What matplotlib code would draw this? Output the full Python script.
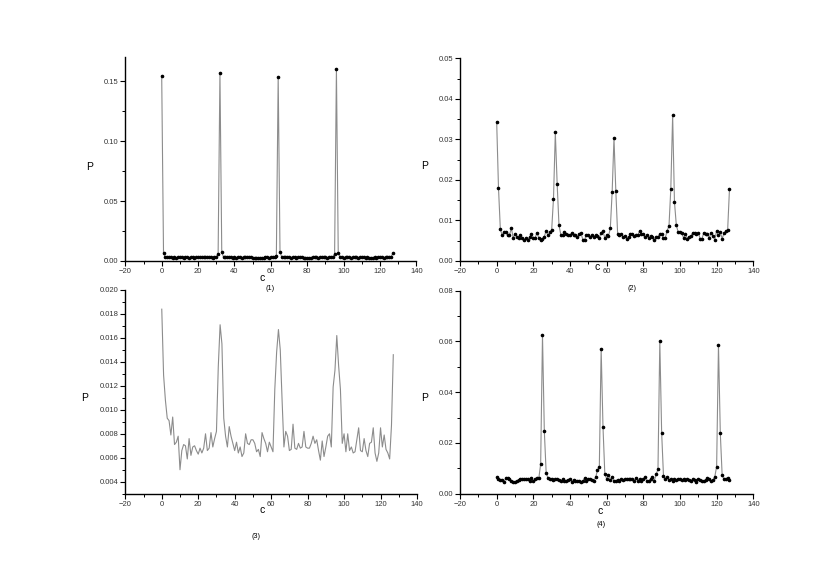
import matplotlib
matplotlib.use("Agg")
import matplotlib.pyplot as plt
import numpy as np
from matplotlib.ticker import MultipleLocator, FormatStrFormatter

plt.rcParams['font.family'] = ['Liberation Sans', 'DejaVu Sans']

c = list(range(128))

# panel (1): four sharp peaks over a flat floor
p1 = [0.1545, 0.0064, 0.0031, 0.0030, 0.0031, 0.0030, 0.0029, 0.0030, 0.0027, 0.0030,
      0.0031, 0.0030, 0.0029, 0.0030, 0.0030, 0.0029, 0.0030, 0.0030, 0.0029, 0.0030,
      0.0031, 0.0033, 0.0031, 0.0030, 0.0031, 0.0030, 0.0030, 0.0032, 0.0029, 0.0031,
      0.0034, 0.0056, 0.1570, 0.0073, 0.0032, 0.0031, 0.0030, 0.0030, 0.0031, 0.0029,
      0.0030, 0.0029, 0.0030, 0.0030, 0.0029, 0.0030, 0.0031, 0.0030, 0.0030, 0.0031,
      0.0028, 0.0027, 0.0028, 0.0027, 0.0028, 0.0028, 0.0027, 0.0030, 0.0031, 0.0029,
      0.0030, 0.0032, 0.0031, 0.0045, 0.1536, 0.0078, 0.0031, 0.0030, 0.0031, 0.0030,
      0.0031, 0.0029, 0.0031, 0.0030, 0.0029, 0.0030, 0.0031, 0.0030, 0.0028, 0.0029,
      0.0025, 0.0027, 0.0029, 0.0030, 0.0031, 0.0030, 0.0029, 0.0030, 0.0031, 0.0030,
      0.0030, 0.0029, 0.0030, 0.0031, 0.0034, 0.0056, 0.1600, 0.0070, 0.0033, 0.0030,
      0.0029, 0.0031, 0.0030, 0.0030, 0.0029, 0.0030, 0.0031, 0.0030, 0.0029, 0.0030,
      0.0031, 0.0030, 0.0029, 0.0030, 0.0029, 0.0028, 0.0029, 0.0030, 0.0029, 0.0030,
      0.0031, 0.0030, 0.0029, 0.0030, 0.0031, 0.0030, 0.0032, 0.0064]

# panel (2)
p2 = [0.0344, 0.0180, 0.0079, 0.0063, 0.0071, 0.0071, 0.0063, 0.0063, 0.0082, 0.0057,
      0.0066, 0.0060, 0.0057, 0.0063, 0.0057, 0.0052, 0.0057, 0.0052, 0.0060, 0.0066,
      0.0057, 0.0057, 0.0070, 0.0057, 0.0052, 0.0055, 0.0060, 0.0075, 0.0063, 0.0072,
      0.0076, 0.0154, 0.0317, 0.0190, 0.0088, 0.0065, 0.0065, 0.0071, 0.0066, 0.0063,
      0.0063, 0.0068, 0.0065, 0.0065, 0.0060, 0.0066, 0.0068, 0.0053, 0.0053, 0.0065,
      0.0063, 0.0058, 0.0063, 0.0060, 0.0063, 0.0061, 0.0057, 0.0070, 0.0073, 0.0057,
      0.0063, 0.0061, 0.0081, 0.0170, 0.0303, 0.0173, 0.0066, 0.0063, 0.0066, 0.0058,
      0.0061, 0.0055, 0.0060, 0.0066, 0.0066, 0.0061, 0.0063, 0.0063, 0.0075, 0.0066,
      0.0066, 0.0058, 0.0063, 0.0057, 0.0061, 0.0060, 0.0052, 0.0060, 0.0060, 0.0066,
      0.0066, 0.0057, 0.0057, 0.0075, 0.0086, 0.0178, 0.0359, 0.0145, 0.0089, 0.0071,
      0.0071, 0.0068, 0.0057, 0.0066, 0.0055, 0.0060, 0.0061, 0.0070, 0.0068, 0.0066,
      0.0070, 0.0055, 0.0055, 0.0070, 0.0066, 0.0066, 0.0057, 0.0070, 0.0061, 0.0053,
      0.0075, 0.0063, 0.0071, 0.0055, 0.0068, 0.0073, 0.0076, 0.0177]

# panel (3): line only
p3 = [0.0184, 0.0129, 0.0108, 0.0093, 0.0091, 0.0079, 0.0094, 0.0071, 0.0073, 0.0078,
      0.0050, 0.0066, 0.0071, 0.0070, 0.0059, 0.0076, 0.0062, 0.0069, 0.0070, 0.0066,
      0.0063, 0.0068, 0.0064, 0.0068, 0.0080, 0.0066, 0.0068, 0.0081, 0.0069, 0.0076,
      0.0082, 0.0136, 0.0171, 0.0155, 0.0093, 0.0078, 0.0069, 0.0086, 0.0078, 0.0072,
      0.0066, 0.0073, 0.0064, 0.0069, 0.0061, 0.0064, 0.0080, 0.0072, 0.0071, 0.0075,
      0.0075, 0.0072, 0.0065, 0.0067, 0.0061, 0.0081, 0.0076, 0.0072, 0.0065, 0.0073,
      0.0069, 0.0065, 0.0117, 0.0148, 0.0167, 0.0150, 0.0108, 0.0069, 0.0082, 0.0078,
      0.0066, 0.0067, 0.0088, 0.0068, 0.0067, 0.0072, 0.0068, 0.0069, 0.0082, 0.0069,
      0.0068, 0.0068, 0.0072, 0.0078, 0.0072, 0.0075, 0.0066, 0.0058, 0.0074, 0.0061,
      0.0069, 0.0078, 0.0080, 0.0069, 0.0119, 0.0133, 0.0162, 0.0137, 0.0117, 0.0072,
      0.0080, 0.0065, 0.0080, 0.0066, 0.0069, 0.0064, 0.0065, 0.0075, 0.0085, 0.0066,
      0.0065, 0.0076, 0.0066, 0.0061, 0.0072, 0.0073, 0.0085, 0.0064, 0.0057, 0.0064,
      0.0085, 0.0069, 0.0079, 0.0067, 0.0064, 0.0059, 0.0087, 0.0146]

# panel (4): peaks shifted to 25, 57, 89, 121
p4 = [0.0064, 0.0059, 0.0054, 0.0054, 0.0046, 0.0061, 0.0061, 0.0057, 0.0051, 0.0046,
      0.0046, 0.0051, 0.0054, 0.0059, 0.0057, 0.0059, 0.0057, 0.0057, 0.0051, 0.0061,
      0.0051, 0.0057, 0.0062, 0.0061, 0.0117, 0.0624, 0.0247, 0.0083, 0.0061, 0.0059,
      0.0057, 0.0054, 0.0058, 0.0057, 0.0054, 0.0049, 0.0057, 0.0051, 0.0051, 0.0054,
      0.0057, 0.0046, 0.0054, 0.0049, 0.0051, 0.0049, 0.0046, 0.0051, 0.0061, 0.0051,
      0.0057, 0.0059, 0.0054, 0.0051, 0.0064, 0.0093, 0.0104, 0.0571, 0.0264, 0.0078,
      0.0059, 0.0072, 0.0054, 0.0064, 0.0051, 0.0049, 0.0054, 0.0051, 0.0057, 0.0054,
      0.0057, 0.0057, 0.0057, 0.0057, 0.0057, 0.0051, 0.0062, 0.0051, 0.0059, 0.0049,
      0.0057, 0.0064, 0.0049, 0.0051, 0.0057, 0.0067, 0.0051, 0.0076, 0.0096, 0.0600,
      0.0241, 0.0071, 0.0059, 0.0064, 0.0054, 0.0059, 0.0051, 0.0057, 0.0054, 0.0059,
      0.0057, 0.0054, 0.0057, 0.0054, 0.0057, 0.0054, 0.0051, 0.0059, 0.0054, 0.0046,
      0.0057, 0.0054, 0.0051, 0.0049, 0.0054, 0.0062, 0.0057, 0.0051, 0.0054, 0.0067,
      0.0107, 0.0587, 0.0238, 0.0074, 0.0057, 0.0057, 0.0062, 0.0054]

W, H = 837, 581
fig = plt.figure(figsize=(W / 100, H / 100), dpi=100)


def ftext(x, y, s, size):
    fig.text(x / W, 1 - y / H, s, ha='center', va='center', fontsize=size)


def panel(rect, y, ylim, ymaj, ymin, fmt, markers):
    ax = fig.add_axes(rect)
    ax.plot(c, y, color='#8c8c8c', lw=0.8, zorder=2)
    if markers:
        ax.plot(c, y, 'o', color='black', ms=1.6, zorder=3)
    ax.set_xlim(-20, 140)
    ax.set_ylim(*ylim)
    ax.xaxis.set_major_locator(MultipleLocator(20))
    ax.xaxis.set_minor_locator(MultipleLocator(10))
    ax.yaxis.set_major_locator(MultipleLocator(ymaj))
    ax.yaxis.set_minor_locator(MultipleLocator(ymin))
    ax.yaxis.set_major_formatter(FormatStrFormatter(fmt))
    for s in ('top', 'right'):
        ax.spines[s].set_visible(False)
    for s in ('left', 'bottom'):
        ax.spines[s].set_linewidth(1.0)
    ax.tick_params(which='major', direction='out', length=3.5, width=0.8,
                   labelsize=5.5, pad=1.5, colors='black', labelcolor='#333333')
    ax.tick_params(which='minor', direction='out', length=2, width=0.7)
    ax.set_facecolor('none')
    return ax


panel([125.3 / W, 1 - 261 / H, 291.2 / W, 203.7 / H], p1, (0, 0.17), 0.05, 0.025, '%.2f', True)
panel([460 / W, 1 - 261 / H, 293.3 / W, 202.7 / H], p2, (0, 0.05), 0.01, 0.005, '%.2f', True)
panel([125.3 / W, 1 - 493.7 / H, 291.7 / W, 203.7 / H], p3, (0.003, 0.020), 0.002, 0.001, '%.3f', False)
panel([460 / W, 1 - 493.7 / H, 293.3 / W, 203.0 / H], p4, (0, 0.08), 0.02, 0.01, '%.2f', True)

ftext(90, 167, 'P', 7.5)
ftext(425, 166, 'P', 7.5)
ftext(85, 398, 'P', 7.5)
ftext(425, 398, 'P', 7.5)

ftext(262, 278, 'c', 7.5)
ftext(597, 267, 'c', 7.5)
ftext(262, 510, 'c', 7.5)
ftext(600, 511, 'c', 7.5)

ftext(270, 288, '(1)', 5.2)
ftext(632, 288, '(2)', 5.2)
ftext(256, 537, '(3)', 5.2)
ftext(601, 524, '(4)', 5.2)

fig.savefig('out.png', dpi=100)
